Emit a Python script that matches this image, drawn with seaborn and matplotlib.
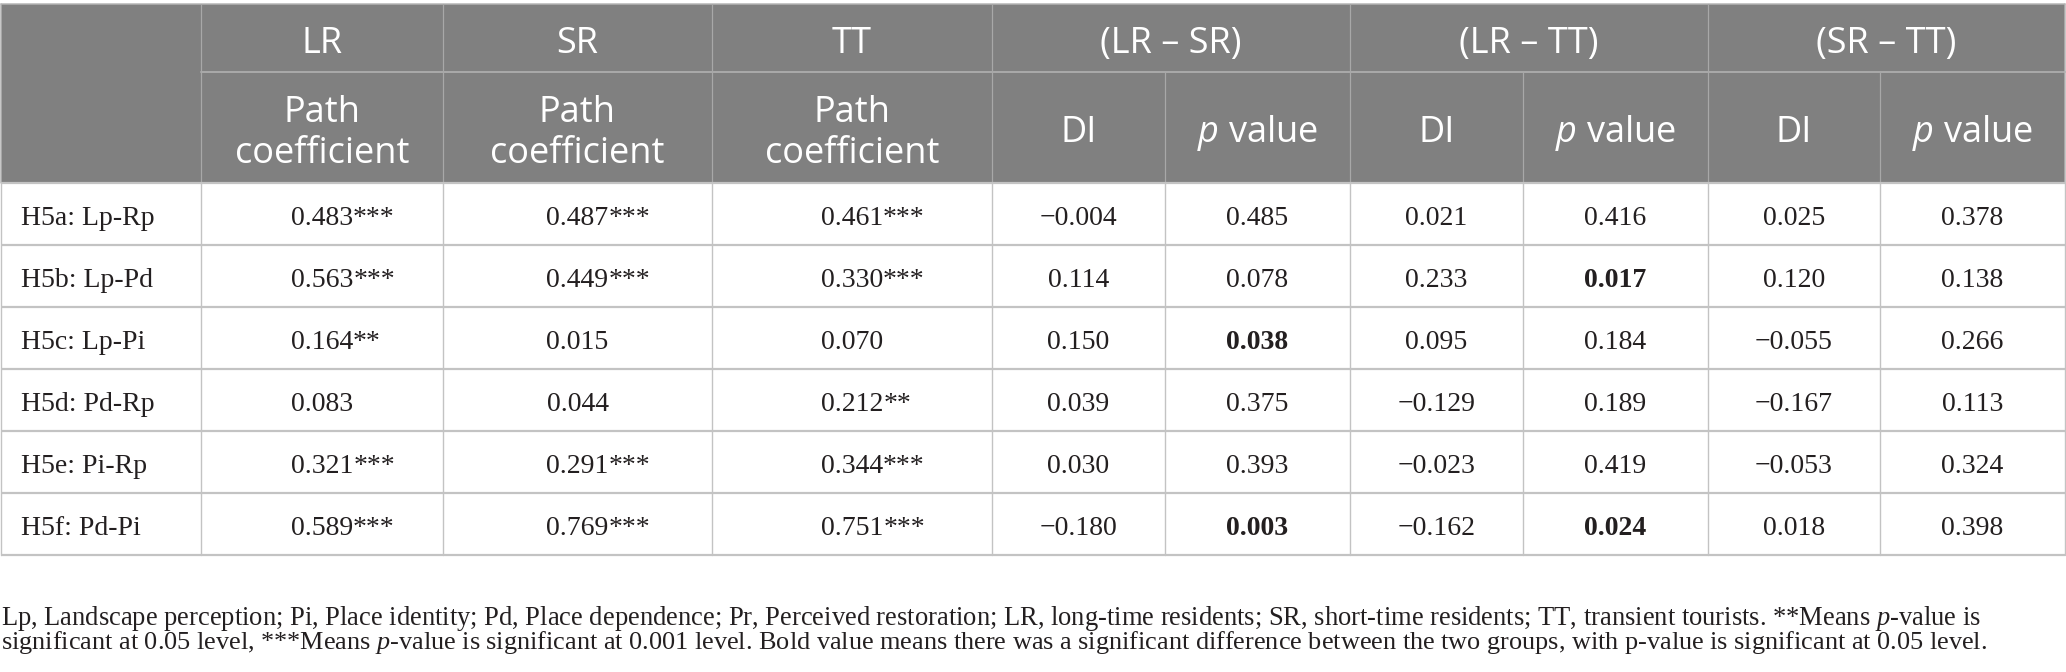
import numpy as np
import pandas as pd
import matplotlib
matplotlib.use("Agg")
import matplotlib.pyplot as plt
from matplotlib.patches import Rectangle
import seaborn as sns

# ---------------- data ----------------
row_labels = ["H5a: Lp-Rp", "H5b: Lp-Pd", "H5c: Lp-Pi", "H5d: Pd-Rp", "H5e: Pi-Rp", "H5f: Pd-Pi"]
group_names = ["LR", "SR", "TT"]
compare_names = ["(LR \u2013 SR)", "(LR \u2013 TT)", "(SR \u2013 TT)"]

lr_coef = [0.483, 0.563, 0.164, 0.083, 0.321, 0.589]
lr_sig = ["***", "***", "**", "", "***", "***"]
sr_coef = [0.487, 0.449, 0.015, 0.044, 0.291, 0.769]
sr_sig = ["***", "***", "", "", "***", "***"]
tt_coef = [0.461, 0.330, 0.070, 0.212, 0.344, 0.751]
tt_sig = ["***", "***", "", "**", "***", "***"]

di_lr_sr = [-0.004, 0.114, 0.150, 0.039, 0.030, -0.180]
p_lr_sr = [0.485, 0.078, 0.038, 0.375, 0.393, 0.003]
di_lr_tt = [0.021, 0.233, 0.095, -0.129, -0.023, -0.162]
p_lr_tt = [0.416, 0.017, 0.184, 0.189, 0.419, 0.024]
di_sr_tt = [0.025, 0.120, -0.055, -0.167, -0.053, 0.018]
p_sr_tt = [0.378, 0.138, 0.266, 0.113, 0.324, 0.398]

footnote_1 = ("Lp, Landscape perception; Pi, Place identity; Pd, Place dependence; Pr, Perceived restoration; "
              "LR, long-time residents; SR, short-time residents; TT, transient tourists. **Means $\\mathit{p}$-value is")
footnote_2 = ("significant at 0.05 level, ***Means $\\mathit{p}$-value is significant at 0.001 level. Bold value means "
              "there was a significant difference between the two groups, with p-value is significant at 0.05 level.")

# ---------------- style ----------------
sns.set_theme(style="white")
plt.rcParams['font.family'] = ['Liberation Serif', 'DejaVu Serif']
plt.rcParams['mathtext.fontset'] = 'custom'
plt.rcParams['mathtext.rm'] = 'Liberation Serif'
plt.rcParams['mathtext.it'] = 'Liberation Serif:italic'
plt.rcParams['mathtext.sf'] = 'Open Sans:italic'

SANS = ['Open Sans', 'DejaVu Sans']
HEAD_BG = "#808080"
HEAD_LINE = "#a8a8a8"
BODY_LINE = "#c3c3c3"
TXT = "#231f20"

W, H = 2066, 672
fig = plt.figure(figsize=(W / 100, H / 100), dpi=100)
ax = fig.add_axes([0, 0, 1, 1])
ax.set_xlim(0, W)
ax.set_ylim(H, 0)
ax.axis('off')

px = 0.72  # points per pixel at dpi 100

# layout
xe = [1, 201, 443, 712, 992, 1165, 1350, 1523, 1708, 1880, 2065]
y_top, y_mid, y_head = 4, 72, 183
row_h = 62
n = len(row_labels)
ye = [y_head + i * row_h for i in range(n + 1)]

# header background
ax.add_patch(Rectangle((xe[0], y_top), xe[-1] - xe[0], y_head - y_top, facecolor=HEAD_BG, edgecolor='none', zorder=0))
# header lines
ax.plot([xe[0], xe[-1]], [y_top, y_top], color="#b5b5b5", lw=1.5 * px, zorder=2)
ax.plot([xe[1], xe[-1]], [y_mid, y_mid], color=HEAD_LINE, lw=2 * px, zorder=2)
for x in [xe[1], xe[2], xe[3], xe[4], xe[6], xe[8]]:
    ax.plot([x, x], [y_top, y_head], color=HEAD_LINE, lw=1.2 * px, zorder=2)
for x in [xe[5], xe[7], xe[9]]:
    ax.plot([x, x], [y_mid, y_head], color=HEAD_LINE, lw=1.2 * px, zorder=2)
ax.plot([xe[0], xe[0]], [y_top, y_head], color="#b5b5b5", lw=1.5 * px, zorder=2)
ax.plot([xe[-1], xe[-1]], [y_top, y_head], color="#b5b5b5", lw=1.5 * px, zorder=2)

# body lines
for y in ye:
    ax.plot([xe[0], xe[-1]], [y, y], color=BODY_LINE, lw=2.2 * px, zorder=2, solid_capstyle='butt')
for x in xe:
    ax.plot([x, x], [ye[0], ye[-1]], color=BODY_LINE, lw=1.4 * px, zorder=2)

# header text
HFS = 26
centers = [(xe[i] + xe[i + 1]) / 2 for i in range(len(xe) - 1)]
for i, g in enumerate(group_names):
    cx = centers[i + 1]
    ax.text(cx, 53, g, ha='center', va='baseline', color='white', fontsize=HFS, family=SANS)
    ax.text(cx, 122, "Path", ha='center', va='baseline', color='white', fontsize=HFS, family=SANS)
    ax.text(cx, 163, "coefficient", ha='center', va='baseline', color='white', fontsize=HFS, family=SANS)
for j, c in enumerate(compare_names):
    a, b = xe[4 + 2 * j], xe[6 + 2 * j]
    ax.text((a + b) / 2, 53, c, ha='center', va='baseline', color='white', fontsize=HFS, family=SANS)
    ax.text(centers[4 + 2 * j], 142, "DI", ha='center', va='baseline', color='white', fontsize=HFS, family=SANS)
    ax.text(centers[5 + 2 * j], 142, "$\\mathsf{p}$ value", ha='center', va='baseline', color='white',
            fontsize=HFS, family=SANS)

# body text
BFS = 20


def fmt(v):
    return f"{v:.3f}".replace("-", "\u2212")


coef_cols = [(lr_coef, lr_sig), (sr_coef, sr_sig), (tt_coef, tt_sig)]
diff_cols = [(di_lr_sr, p_lr_sr), (di_lr_tt, p_lr_tt), (di_sr_tt, p_sr_tt)]

for r in range(n):
    yb = ye[r] + row_h / 2 + 11
    ax.text(21, yb, row_labels[r], ha='left', va='baseline', color=TXT, fontsize=BFS)
    for k, (vals, sig) in enumerate(coef_cols):
        t = ax.text(centers[k + 1], yb, fmt(vals[r]), ha='center', va='baseline', color=TXT, fontsize=BFS)
        if sig[r]:
            ax.annotate(sig[r], xy=(1, 0), xycoords=t, ha='left', va='bottom', color=TXT, fontsize=BFS)
    for j, (di, pv) in enumerate(diff_cols):
        ax.text(centers[4 + 2 * j], yb, fmt(di[r]), ha='center', va='baseline', color=TXT, fontsize=BFS)
        ax.text(centers[5 + 2 * j], yb, fmt(pv[r]), ha='center', va='baseline', color=TXT, fontsize=BFS,
                fontweight='bold' if pv[r] < 0.05 else 'normal')

# footnote, fitted to the reference width
f1 = ax.text(1, 625, footnote_1, ha='left', va='baseline', color=TXT, fontsize=14)
f2 = ax.text(1, 649, footnote_2, ha='left', va='baseline', color=TXT, fontsize=14)
fig.canvas.draw()
r = fig.canvas.get_renderer()
w1 = f1.get_window_extent(r).width
w2 = f2.get_window_extent(r).width
f1.set_fontsize(14 * 1988 / w1)
f2.set_fontsize(14 * 1992 / w2)

fig.savefig("out.png", dpi=100, facecolor='white')
